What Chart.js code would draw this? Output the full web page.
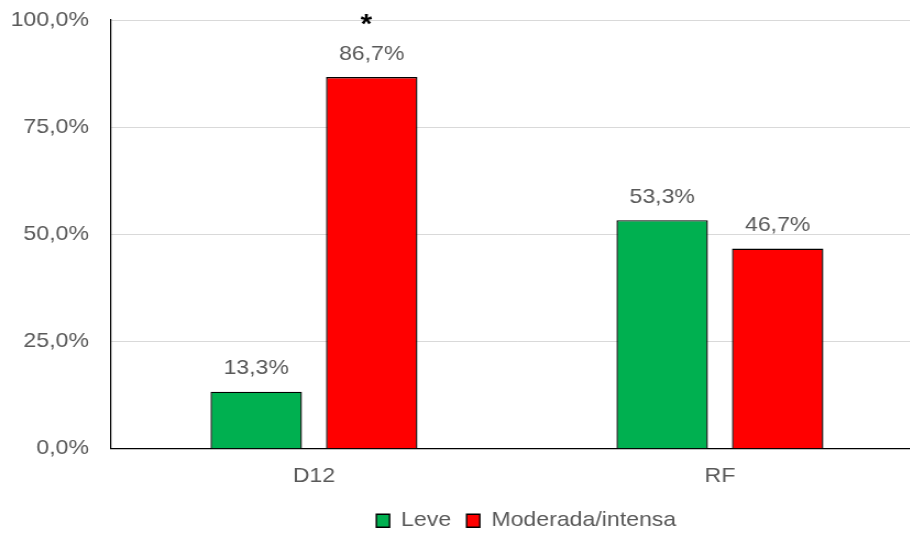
<!DOCTYPE html>
<html>
<head>
<meta charset="utf-8">
<script src="https://cdn.jsdelivr.net/npm/chart.js@4/dist/chart.umd.min.js"></script>
<style>
    body { margin: 0; background: #fff; }
    .wrap { width: 910px; height: 533px; overflow: hidden; }
    /* o gráfico original foi esticado na horizontal */
    #grafico { display: block; transform: scaleX(1.1); transform-origin: 0 0; }
</style>
</head>
<body>
<div class="wrap"><canvas id="grafico" width="845" height="533"></canvas></div>
<script>
const categorias = ['D12', 'RF'];
const nomesSeries = ['Leve', 'Moderada/intensa'];
const leve = [13.3, 53.3];
const moderada = [86.7, 46.7];
const marcaModerada = ['*', ''];
const yMin = 0;
const yMax = 100;
const yPasso = 25;

const corTexto = '#595959';
const fonte = { family: "'Liberation Sans', Arial, sans-serif", size: 21 };
const formatarPct = (v) => v.toFixed(1).replace('.', ',') + '%';

// rótulos acima das barras + asterisco de significância
const rotulosPlugin = {
    id: 'rotulos',
    afterLayout(chart) {
        // legenda um pouco deslocada para a direita, como no original
        chart.legend.left += 8.5;
        chart.legend.right += 8.5;
    },
    afterDatasetsDraw(chart) {
        const ctx = chart.ctx;
        ctx.save();
        ctx.textAlign = 'center';
        ctx.textBaseline = 'alphabetic';
        chart.data.datasets.forEach((ds, i) => {
            const meta = chart.getDatasetMeta(i);
            meta.data.forEach((bar, j) => {
                ctx.font = `${fonte.size}px ${fonte.family}`;
                ctx.fillStyle = corTexto;
                ctx.fillText(formatarPct(ds.data[j]), bar.x, bar.y - 17.5);
                if (ds.marcas && ds.marcas[j]) {
                    ctx.font = `bold 27px ${fonte.family}`;
                    ctx.fillStyle = '#000';
                    ctx.fillText(ds.marcas[j], bar.x - 5, bar.y - 44.5);
                }
            });
        });
        ctx.restore();
    }
};

const config = {
    type: 'bar',
    data: {
        labels: categorias,
        datasets: [{
            label: nomesSeries[0],
            data: leve,
            backgroundColor: '#00B050',
            borderColor: '#000',
            borderWidth: 1.4,
            categoryPercentage: 0.569,
            barPercentage: 0.792
        }, {
            label: nomesSeries[1],
            data: moderada,
            marcas: marcaModerada,
            backgroundColor: '#FF0000',
            borderColor: '#000',
            borderWidth: 1.4,
            categoryPercentage: 0.569,
            barPercentage: 0.792
        }]
    },
    options: {
        responsive: false,
        animation: false,
        devicePixelRatio: 1,
        layout: { padding: { top: 20, right: 6, bottom: -8.2, left: 0 } },
        scales: {
            x: {
                grid: { display: false, drawTicks: false },
                border: { display: true, color: '#000', width: 1.2 },
                ticks: { color: corTexto, font: fonte, padding: 15 },
                afterFit: (scale) => { scale.height = 47.5; }
            },
            y: {
                min: yMin,
                max: yMax,
                grid: {
                    drawTicks: false,
                    color: (c) => (c.tick && c.tick.value === 0) ? 'rgba(0,0,0,0)' : '#D9D9D9'
                },
                border: { display: true, color: '#000', width: 1.2 },
                ticks: {
                    stepSize: yPasso,
                    color: corTexto,
                    font: fonte,
                    padding: 20,
                    callback: (value) => formatarPct(value)
                },
                afterFit: (scale) => {
                    scale.width = 100.9;
                    scale.paddingTop = 0;
                    scale.paddingBottom = 0;
                }
            }
        },
        plugins: {
            legend: {
                position: 'bottom',
                fullSize: false,
                labels: {
                    color: corTexto,
                    font: fonte,
                    boxWidth: 12,
                    boxHeight: 13,
                    padding: 14
                }
            },
            tooltip: { enabled: false }
        }
    },
    plugins: [rotulosPlugin]
};

new Chart(document.getElementById('grafico'), config);
</script>
</body>
</html>
